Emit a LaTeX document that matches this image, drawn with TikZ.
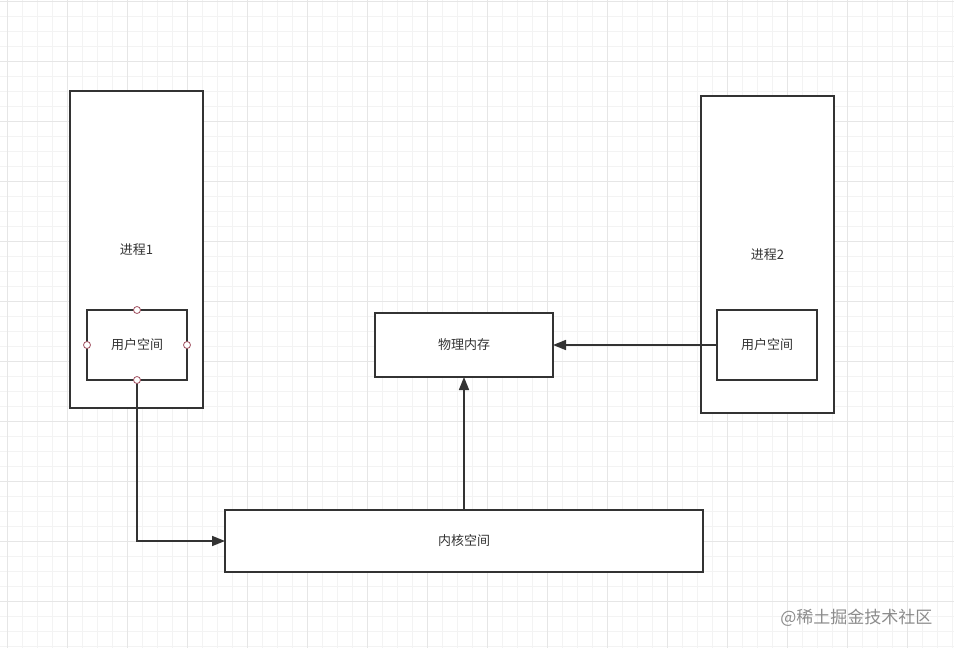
\documentclass[tikz,border=0pt]{standalone}
\usepackage{fontspec}
\newfontfamily\cjk{Noto Sans CJK SC}
\usetikzlibrary{arrows.meta}
\definecolor{ink}{HTML}{333333}
\definecolor{gridminor}{HTML}{F3F3F3}
\definecolor{gridmajor}{HTML}{E6E6E6}
\definecolor{pt}{HTML}{A05060}
\tikzset{
  lbl/.style={font=\cjk\fontsize{13}{15}\selectfont, text=ink},
  box/.style={lbl, draw=ink, line width=1.6pt, fill=white, inner sep=0pt, outer sep=0pt},
  conn/.style={draw=ink, line width=1.6pt, -{Triangle[length=13pt,width=10pt]}},
  cpt/.style={circle, draw=pt, line width=0.8pt, fill=white, minimum size=7pt, inner sep=0pt}
}
\begin{document}
\begin{tikzpicture}[x=1pt,y=-1pt]
\useasboundingbox (0,0) rectangle (954,648);
\fill[white] (0,0) rectangle (954,648);
\foreach \x in {7,22,...,954} {\draw[gridminor, line width=0.8pt] (\x,0) -- (\x,648);}
\foreach \y in {1,16,...,648} {\draw[gridminor, line width=0.8pt] (0,\y) -- (954,\y);}
\foreach \x in {7,67,...,954} {\draw[gridmajor, line width=0.8pt] (\x,0) -- (\x,648);}
\foreach \y in {1,61,...,648} {\draw[gridmajor, line width=0.8pt] (0,\y) -- (954,\y);}

\node[box, minimum width=133pt, minimum height=317pt] (p1) at (136.5,249.5) {};
\node[lbl] (p1t) at (136.5,250) {进程1};
\node[box, minimum width=100pt, minimum height=70pt] (u1) at (137,345) {用户空间};

\node[box, minimum width=133pt, minimum height=317pt] (p2) at (767.5,254.5) {};
\node[lbl] (p2t) at (767.5,255) {进程2};
\node[box, minimum width=100pt, minimum height=70pt] (u2) at (767,345) {用户空间};

\node[box, minimum width=178pt, minimum height=64pt] (mem) at (464,345) {物理内存};
\node[box, minimum width=478pt, minimum height=62pt] (kern) at (464,541) {内核空间};

\draw[conn] (u1.south) |- (kern.west);
\draw[conn] (kern.north) -- (mem.south);
\draw[conn] (u2.west) -- (mem.east);

\node[cpt] (c1) at (u1.north) {};
\node[cpt] (c2) at (u1.west) {};
\node[cpt] (c3) at (u1.east) {};
\node[cpt] (c4) at (u1.south) {};

\node[font=\cjk\fontsize{17}{20}\selectfont, text=black!45, anchor=east] (wm) at (936,618) {@稀土掘金技术社区};
\end{tikzpicture}
\end{document}
